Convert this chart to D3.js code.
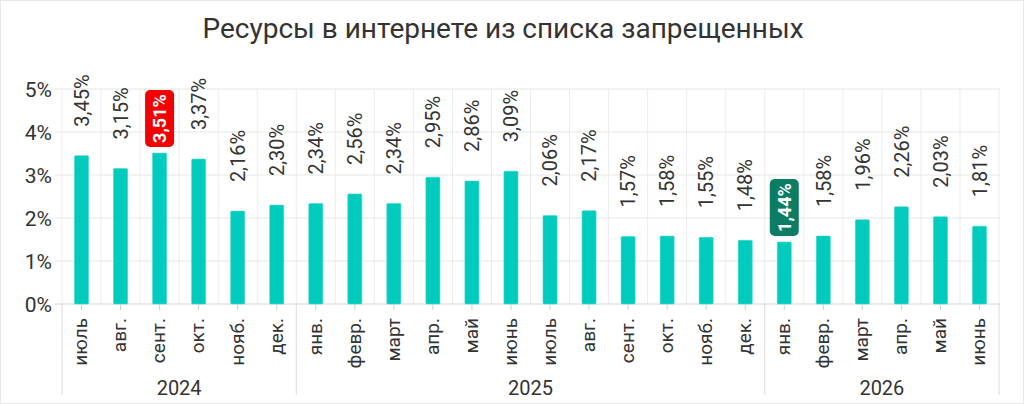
<!DOCTYPE html>
<html>
<head>
<meta charset="utf-8">
<script src="https://cdn.jsdelivr.net/npm/d3@7"></script>
<style>
  body { margin: 0; background: #fff; }
  svg { display: block; font-family: "Roboto", sans-serif; }
</style>
</head>
<body>
<svg id="chart" width="1024" height="404"></svg>
<script>
var months = ["июль","авг.","сент.","окт.","нояб.","дек.",
  "янв.","февр.","март","апр.","май","июнь","июль","авг.","сент.","окт.","нояб.","дек.",
  "янв.","февр.","март","апр.","май","июнь"];
var years = ["2024","2025","2026"];
var yearOf = [0,0,0,0,0,0, 1,1,1,1,1,1,1,1,1,1,1,1, 2,2,2,2,2,2];
var values = [3.45,3.15,3.51,3.37,2.16,2.30,
  2.34,2.56,2.34,2.95,2.86,3.09,2.06,2.17,1.57,1.58,1.55,1.48,
  1.44,1.58,1.96,2.26,2.03,1.81];
var yTicks = [0,1,2,3,4,5];

var width = 1024, height = 404;
var plotL = 62, plotR = 999, plotT = 89, plotB = 304;

var svg = d3.select("#chart");
var ru = d3.formatLocale({decimal: ",", thousands: " ", grouping: [3], currency: ["", ""]});
var fmt = ru.format(".2f");

var x = d3.scaleBand()
  .domain(d3.range(values.length))
  .range([plotL, plotR])
  .paddingInner(0.64)
  .paddingOuter(0.32);
var step = x.step();
var y = d3.scaleLinear().domain([0, 5]).range([plotB, plotT]);

// frame
svg.append("rect")
  .attr("x", 0.5).attr("y", 0.5)
  .attr("width", width - 1).attr("height", height - 1)
  .attr("fill", "none").attr("stroke", "#e8e8e8");

svg.append("text")
  .attr("x", 503).attr("y", 38)
  .attr("text-anchor", "middle")
  .style("font-size", "28px")
  .attr("fill", "#333")
  .text("Ресурсы в интернете из списка запрещенных");

// grid
svg.append("g").selectAll("line")
  .data(d3.range(values.length + 1))
  .enter().append("line")
  .attr("x1", function(d){ return plotL + d * step; })
  .attr("x2", function(d){ return plotL + d * step; })
  .attr("y1", plotT).attr("y2", plotB)
  .attr("stroke", "#ececec");

svg.append("g").selectAll("line")
  .data(yTicks)
  .enter().append("line")
  .attr("x1", 55).attr("x2", plotR + 1)
  .attr("y1", function(d){ return y(d); })
  .attr("y2", function(d){ return y(d); })
  .attr("stroke", function(d){ return d == 0 ? "#d6d6d6" : "#e6e6e6"; });

svg.append("g").selectAll("text")
  .data(yTicks)
  .enter().append("text")
  .attr("x", 52)
  .attr("y", function(d){ return y(d); })
  .attr("dy", "0.36em")
  .attr("text-anchor", "end")
  .style("font-size", "21px")
  .attr("fill", "#333")
  .text(function(d){ return d + "%"; });

// bars
svg.append("g").selectAll("rect")
  .data(values)
  .enter().append("rect")
  .attr("x", function(d, i){ return x(i); })
  .attr("y", function(d){ return y(d); })
  .attr("width", x.bandwidth())
  .attr("height", function(d){ return y(0) - y(d); })
  .attr("rx", 1)
  .attr("fill", "#00cbbd")
  .attr("stroke", "#3fd8cc")
  .attr("stroke-width", 0.6);

// value labels
var maxI = d3.maxIndex(values), minI = d3.minIndex(values);
function isMark(i){ return i == maxI || i == minI; }

var labels = svg.append("g").selectAll("g")
  .data(values)
  .enter().append("g")
  .attr("transform", function(d, i){
    var cx = x(i) + x.bandwidth() / 2;
    var off = isMark(i) ? 6 : 29;
    return "translate(" + cx + "," + (y(d) - off) + ") rotate(-90)";
  });

labels.filter(function(d, i){ return isMark(i); })
  .append("rect")
  .attr("x", 0).attr("y", -14.5)
  .attr("width", 57).attr("height", 29)
  .attr("rx", 5)
  .attr("fill", function(d){ return d == values[maxI] ? "#f50000" : "#0b7d63"; });

labels.append("text")
  .attr("x", function(d, i){ return isMark(i) ? 28.5 : 0; })
  .attr("dy", "0.36em")
  .attr("text-anchor", function(d, i){ return isMark(i) ? "middle" : "start"; })
  .style("font-size", function(d, i){ return isMark(i) ? "18px" : "20px"; })
  .style("font-weight", function(d, i){ return isMark(i) ? "bold" : "normal"; })
  .attr("fill", function(d, i){ return isMark(i) ? "#fff" : "#333"; })
  .text(function(d){ return fmt(d) + "%"; });

// month axis
svg.append("g").selectAll("line")
  .data(values)
  .enter().append("line")
  .attr("x1", function(d, i){ return x(i) + x.bandwidth() / 2; })
  .attr("x2", function(d, i){ return x(i) + x.bandwidth() / 2; })
  .attr("y1", plotB).attr("y2", plotB + 6)
  .attr("stroke", "#cfcfcf");

svg.append("g").selectAll("text")
  .data(months)
  .enter().append("text")
  .attr("transform", function(d, i){
    return "translate(" + (x(i) + x.bandwidth() / 2 - 1) + "," + (plotB + 14) + ") rotate(-90)";
  })
  .attr("dy", "0.36em")
  .attr("text-anchor", "end")
  .style("font-size", "19px")
  .attr("fill", "#333")
  .text(function(d){ return d; });

// year groups
var groups = years.map(function(yr, k){
  var idx = d3.range(values.length).filter(function(i){ return yearOf[i] == k; });
  return {name: yr, x0: plotL + idx[0] * step, x1: plotL + (idx[idx.length - 1] + 1) * step};
});

var seps = [plotL].concat(groups.map(function(g){ return g.x1; }));
svg.append("g").selectAll("line")
  .data(seps)
  .enter().append("line")
  .attr("x1", function(d){ return d; }).attr("x2", function(d){ return d; })
  .attr("y1", plotB).attr("y2", 395)
  .attr("stroke", "#dcdcdc");

svg.append("g").selectAll("text")
  .data(groups)
  .enter().append("text")
  .attr("x", function(d){ return (d.x0 + d.x1) / 2; })
  .attr("y", 395)
  .attr("text-anchor", "middle")
  .style("font-size", "20px")
  .attr("fill", "#333")
  .text(function(d){ return d.name; });
</script>
</body>
</html>
